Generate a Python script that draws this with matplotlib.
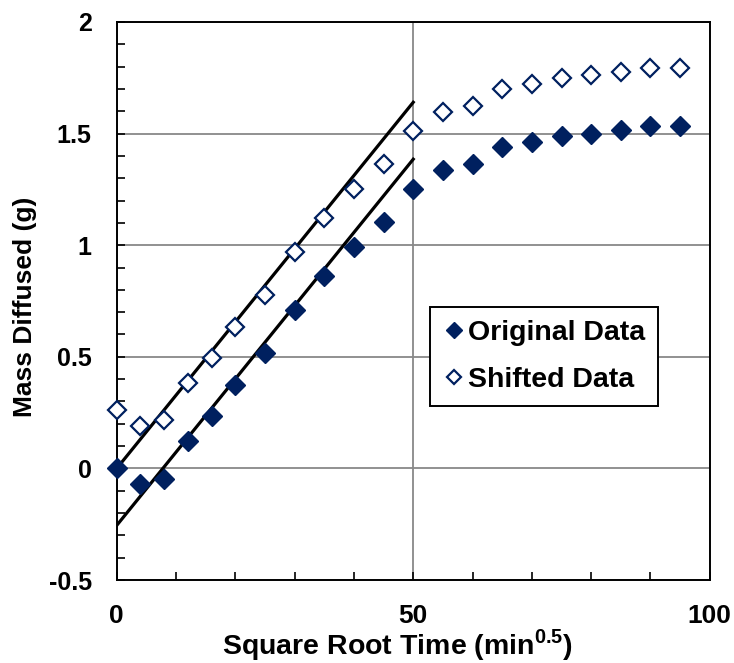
import matplotlib.pyplot as plt
from matplotlib.ticker import MultipleLocator

plt.rcParams['font.family'] = ['Liberation Sans', 'DejaVu Sans']
plt.rcParams['font.weight'] = 'bold'
plt.rcParams['mathtext.fontset'] = 'custom'
plt.rcParams['mathtext.bf'] = 'Liberation Sans:bold'

# square root of time (min^0.5)
sqrt_t = [0, 4, 8, 12, 16, 20, 25, 30, 35, 40, 45, 50, 55, 60, 65, 70, 75, 80, 85, 90, 95]

# mass diffused (g)
original = [0.0, -0.07, -0.045, 0.125, 0.235, 0.375, 0.515, 0.71, 0.86, 0.99, 1.105,
            1.25, 1.335, 1.365, 1.44, 1.46, 1.49, 1.5, 1.515, 1.535, 1.535]
shifted = [0.26, 0.19, 0.215, 0.385, 0.495, 0.635, 0.775, 0.97, 1.12, 1.25, 1.365,
           1.51, 1.595, 1.625, 1.70, 1.72, 1.75, 1.76, 1.775, 1.795, 1.795]

# linear fits over the first 50 min^0.5
fit_x = [0, 50]
fit_slope = 0.0328
fit_icpt_shifted = 0.0
fit_icpt_original = -0.255

navy = '#00205F'

fig = plt.figure(figsize=(7.34, 6.63), dpi=100)
ax = fig.add_axes([0.159, 0.125, 0.808, 0.842])

ax.grid(True, color='#888888', linewidth=1.3)
ax.set_axisbelow(True)

ax.plot(fit_x, [fit_icpt_shifted + fit_slope * x for x in fit_x], color='black', lw=2.3, zorder=2)
ax.plot(fit_x, [fit_icpt_original + fit_slope * x for x in fit_x], color='black', lw=2.3, zorder=2)

ax.plot(sqrt_t, original, ls='none', marker='D', ms=10, color=navy,
        mec=navy, label='Original Data', zorder=3, clip_on=False)
ax.plot(sqrt_t, shifted, ls='none', marker='D', ms=9, mfc='white', mec=navy,
        mew=1.6, label='Shifted Data', zorder=3, clip_on=False)

ax.set_xlim(0, 100)
ax.set_ylim(-0.5, 2)
ax.xaxis.set_major_locator(MultipleLocator(50))
ax.xaxis.set_minor_locator(MultipleLocator(10))
ax.yaxis.set_major_locator(MultipleLocator(0.5))
ax.yaxis.set_minor_locator(MultipleLocator(0.1))
ax.yaxis.set_major_formatter(plt.FuncFormatter(lambda v, p: f'{v:g}'))
ax.tick_params(which='both', direction='in', width=1.2, length=6)
ax.tick_params(axis='x', labelsize=19, pad=17)
ax.tick_params(axis='y', labelsize=18, pad=18)
for s in ax.spines.values():
    s.set_linewidth(1.4)

ax.set_xlabel('Square Root Time (min$^{\\mathbf{0.5}}$)', fontsize=20.5, fontweight='bold')
ax.xaxis.set_label_coords(0.474, -0.085)
ax.set_ylabel('Mass Diffused (g)', fontsize=19, fontweight='bold')
ax.yaxis.set_label_coords(-0.135, 0.49)

leg = ax.legend(loc='center', bbox_to_anchor=(544 / 734, 1 - 356.5 / 663),
                bbox_transform=fig.transFigure, fontsize=20.5,
                frameon=True, fancybox=False, edgecolor='black', framealpha=1,
                markerscale=0.8, handlelength=0.8, handletextpad=0.1,
                borderpad=0.46, labelspacing=0.73, borderaxespad=0)
leg.get_frame().set_linewidth(1.4)

fig.savefig('out.png', dpi=100)
